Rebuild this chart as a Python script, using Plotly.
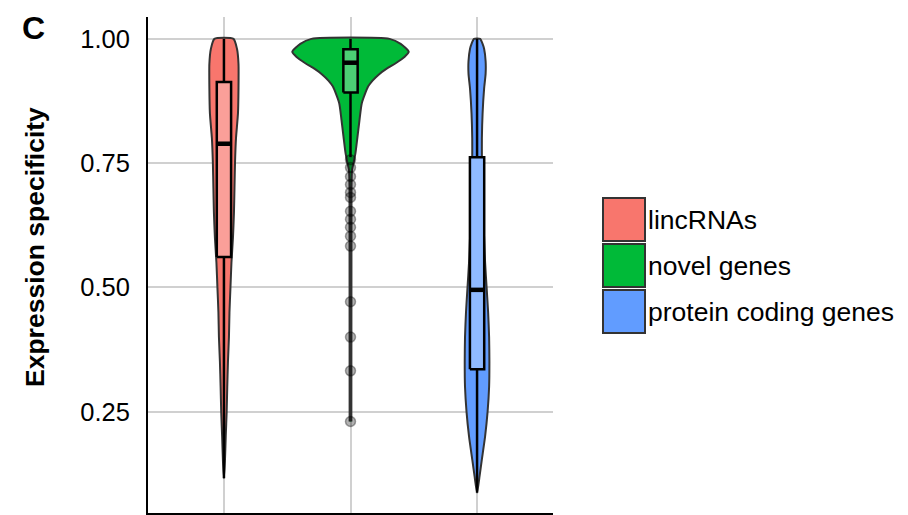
import plotly.graph_objects as go

# ---- data -----------------------------------------------------------------
groups = ["lincRNAs", "novel genes", "protein coding genes"]
colors = ["#F8766D", "#00BA38", "#619CFF"]
positions = [1, 2, 3]

# kernel density outlines (specificity level -> relative density)
linc_levels = [1.00, 0.98, 0.95, 0.90, 0.85, 0.80, 0.75, 0.70, 0.65, 0.60,
               0.55, 0.50, 0.45, 0.40, 0.35, 0.30, 0.25, 0.20, 0.15, 0.116]
linc_density = [0.164, 0.224, 0.250, 0.250, 0.241, 0.207, 0.190, 0.181, 0.172, 0.155,
                0.129, 0.112, 0.095, 0.086, 0.069, 0.057, 0.047, 0.031, 0.017, 0.0]

novel_levels = [1.000, 0.990, 0.974, 0.964, 0.951, 0.940, 0.928, 0.916, 0.904, 0.871,
                0.837, 0.804, 0.771, 0.750, 0.736, 0.700, 0.230]
novel_density = [0.672, 0.862, 1.000, 0.931, 0.776, 0.621, 0.483, 0.379, 0.302, 0.195,
                 0.155, 0.121, 0.086, 0.052, 0.026, 0.017, 0.015]

coding_levels = [1.00, 0.99, 0.98, 0.955, 0.93, 0.90, 0.85, 0.80, 0.76, 0.70, 0.65,
                 0.60, 0.55, 0.50, 0.45, 0.40, 0.35, 0.30, 0.25, 0.20, 0.15, 0.12, 0.087]
coding_density = [0.052, 0.095, 0.121, 0.147, 0.147, 0.121, 0.095, 0.083, 0.083, 0.090, 0.103,
                  0.121, 0.138, 0.164, 0.190, 0.207, 0.212, 0.207, 0.181, 0.138, 0.078, 0.043, 0.0]

# box-plot summaries per group
q1 = [0.561, 0.892, 0.335]
median = [0.789, 0.952, 0.495]
q3 = [0.913, 0.979, 0.762]
lower_whisker = [0.116, 0.762, 0.087]
upper_whisker = [1.0, 1.0, 1.0]

# outlying novel genes
novel_outliers = [0.757, 0.741, 0.723, 0.707, 0.691, 0.681, 0.653, 0.637,
                  0.621, 0.603, 0.583, 0.471, 0.400, 0.332, 0.230]

y_ticks = [0.25, 0.50, 0.75, 1.00]
y_ticktext = ["0.25", "0.50", "0.75", "1.00"]

# ---- styling ----------------------------------------------------------------
FONT = "Liberation Sans, Arial, Helvetica, sans-serif"
VIOLIN_SCALE = 0.46      # data units of half-width for density 1.0
BOX_WIDTH = 0.113
W, H = 908, 515
L, R, T, B = 148, 355, 17, 2


def lighten(hex_color, amount=0.3):
    h = hex_color.lstrip("#")
    rgb = [int(h[i:i + 2], 16) for i in (0, 2, 4)]
    rgb = [round(c + (255 - c) * amount) for c in rgb]
    return "rgb({},{},{})".format(*rgb)


def px_x(px):
    return (px - L) / (W - L - R)


def px_y(py):
    return (H - B - py) / (H - T - B)


fig = go.Figure()

# violins
violins = [(linc_levels, linc_density), (novel_levels, novel_density),
           (coding_levels, coding_density)]
for pos, col, (lv, dens) in zip(positions, colors, violins):
    left = [pos - d * VIOLIN_SCALE for d in dens]
    right = [pos + d * VIOLIN_SCALE for d in dens]
    fig.add_trace(go.Scatter(
        x=left[::-1] + right, y=lv[::-1] + lv, mode="lines", fill="toself",
        fillcolor=col,
        line=dict(color="#333333", width=2, shape="spline", smoothing=0.6),
        hoverinfo="skip", showlegend=False))

# box plots: whiskers, box body, median
for i, (pos, col) in enumerate(zip(positions, colors)):
    for lo, hi in ((q3[i], upper_whisker[i]), (lower_whisker[i], q1[i])):
        fig.add_trace(go.Scatter(
            x=[pos, pos], y=[lo, hi], mode="lines",
            line=dict(color="black", width=2.5),
            showlegend=False, hoverinfo="skip"))
    x0, x1 = pos - BOX_WIDTH / 2, pos + BOX_WIDTH / 2
    fig.add_trace(go.Scatter(
        x=[x0, x1, x1, x0, x0], y=[q1[i], q1[i], q3[i], q3[i], q1[i]],
        mode="lines", fill="toself", fillcolor=lighten(col),
        line=dict(color="black", width=2.5),
        showlegend=False, hoverinfo="skip"))
    fig.add_trace(go.Scatter(
        x=[x0, x1], y=[median[i], median[i]],
        mode="lines", line=dict(color="black", width=4.5),
        showlegend=False, hoverinfo="skip"))

# outliers
fig.add_trace(go.Scatter(
    x=[positions[1]] * len(novel_outliers), y=novel_outliers, mode="markers",
    marker=dict(size=10, color="rgba(0,0,0,0.3)",
                line=dict(color="rgba(0,0,0,0.35)", width=1.5)),
    showlegend=False, hoverinfo="skip"))

# ---- legend keys drawn as boxes with labels ---------------------------------
shapes = []
annotations = []
key_tops = [198, 244, 290]
for top, col, name in zip(key_tops, colors, groups):
    shapes.append(dict(type="rect", xref="paper", yref="paper",
                       x0=px_x(603), x1=px_x(645), y0=px_y(top + 43), y1=px_y(top),
                       fillcolor=col, line=dict(color="#333333", width=2)))
    annotations.append(dict(xref="paper", yref="paper", x=px_x(646), y=px_y(top + 22),
                            xanchor="left", yanchor="middle", showarrow=False,
                            text=name, font=dict(family=FONT, size=26.5, color="black")))

annotations.append(dict(xref="paper", yref="paper", x=px_x(33), y=px_y(28),
                        xanchor="center", yanchor="middle", showarrow=False,
                        text="<b>C</b>", font=dict(family=FONT, size=32, color="black")))
annotations.append(dict(xref="paper", yref="paper", x=px_x(35), y=px_y(247),
                        xanchor="center", yanchor="middle", showarrow=False,
                        textangle=-90, text="<b>Expression specificity</b>",
                        font=dict(family=FONT, size=26.5, color="black")))

fig.update_layout(
    width=W, height=H, margin=dict(l=L, r=R, t=T, b=B),
    paper_bgcolor="white", plot_bgcolor="white",
    showlegend=False, shapes=shapes, annotations=annotations,
    font=dict(family=FONT, color="black"),
    xaxis=dict(range=[0.4, 3.6], tickvals=positions, showticklabels=False, ticks="",
               showgrid=True, gridcolor="#d0d0d0", gridwidth=2, zeroline=False,
               showline=True, linecolor="black", linewidth=2),
    yaxis=dict(range=[0.046, 1.044], tickvals=y_ticks, ticktext=y_ticktext, ticks="",
               tickfont=dict(family=FONT, size=25.5, color="black"), ticklabelstandoff=11,
               showgrid=True, gridcolor="#d0d0d0", gridwidth=2, zeroline=False,
               showline=True, linecolor="black", linewidth=2),
)

fig.write_html("out.html")
